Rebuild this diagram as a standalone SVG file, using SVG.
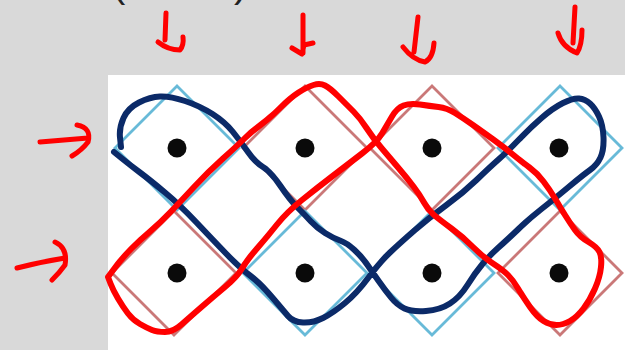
<svg xmlns="http://www.w3.org/2000/svg" width="625" height="350" viewBox="0 0 625 350">
<defs>
<filter id="soft" x="-5%" y="-5%" width="110%" height="110%"><feGaussianBlur stdDeviation="0.6"/></filter>
</defs>
<style>
.bg{fill:#d9d9d9}
.panel{fill:#ffffff}
.dot{fill:#0a0a0a}
.dblue{fill:none;stroke:#58b2d4;stroke-width:2.8;opacity:0.9}
.dred{fill:none;stroke:#c46a6a;stroke-width:2.8;opacity:0.9}
.navy{fill:none;stroke:#0b2a68;stroke-width:6;stroke-linejoin:round;stroke-linecap:round}
.red{fill:none;stroke:#ff0000;stroke-width:6;stroke-linejoin:round;stroke-linecap:round}
.arrow{fill:none;stroke:#ff0000;stroke-width:5;stroke-linejoin:round;stroke-linecap:round}
.paren{font-family:"Liberation Sans",Arial,sans-serif;font-size:40px;fill:#222222}
</style>
<rect class="bg" x="0" y="0" width="625" height="350"/>
<text class="paren" x="112" y="-3">(</text>
<text class="paren" x="234" y="-3">)</text>
<rect class="panel" x="108" y="75" width="517" height="275"/>

<g id="diamonds" filter="url(#soft)">
<polygon id="d-t1" class="dblue" points="177,86 239,148 177,210 115,148"/>
<polygon id="d-t2" class="dred" points="305,86 367,148 305,210 243,148"/>
<polygon id="d-t3" class="dred" points="432,86 494,148 432,210 370,148"/>
<polygon id="d-t4" class="dblue" points="560,86 622,148 560,210 498,148"/>
<polygon id="d-b1" class="dred" points="174,211 236,273 174,335 112,273"/>
<polygon id="d-b2" class="dblue" points="305,211 367,273 305,335 243,273"/>
<polygon id="d-b3" class="dblue" points="432,211 494,273 432,335 370,273"/>
<polygon id="d-b4" class="dred" points="560,211 622,273 560,335 498,273"/>
</g>

<g id="dots">
<circle id="n-t1" class="dot" cx="177" cy="148" r="9.5"/>
<circle id="n-t2" class="dot" cx="305" cy="148" r="9.5"/>
<circle id="n-t3" class="dot" cx="432" cy="148" r="9.5"/>
<circle id="n-t4" class="dot" cx="559" cy="148" r="9.5"/>
<circle id="n-b1" class="dot" cx="177" cy="273" r="9.5"/>
<circle id="n-b2" class="dot" cx="305" cy="273" r="9.5"/>
<circle id="n-b3" class="dot" cx="432" cy="273" r="9.5"/>
<circle id="n-b4" class="dot" cx="559" cy="273" r="9.5"/>
</g>

<g id="connectors">
<path id="navy-loop" class="navy" d="M121,147 L120,137.5 Q119,128 123.5,118 Q128,108 139,102.5 Q150,97 160,96.5 Q170,96 185,101 Q200,106 212.5,114 Q225,122 233,132 Q241,142 248,152 Q255,162 263,167 Q271,172 280.5,186 Q290,200 297.5,207.5 Q305,215 311,221.5 Q317,228 325,233 Q333,238 340,240.5 Q347,243 354.5,250 Q362,257 367.5,265 Q373,273 379,281.5 Q385,290 391,297.5 Q397,305 404.5,308.5 Q412,312 426,311 Q440,310 450,303.5 Q460,297 467.5,285 Q475,273 482.5,264 Q490,255 498.5,247.5 Q507,240 518.5,229 Q530,218 541.5,209 Q553,200 568,187.5 Q583,175 590,170 Q597,165 600.5,157.5 Q604,150 603.5,137.5 Q603,125 599,116.5 Q595,108 590,103.5 Q585,99 579,98.5 Q573,98 563,103 Q553,108 541.5,118 Q530,128 518.5,140 Q507,152 498.5,159.5 Q490,167 476.5,180 Q463,193 446.5,205 Q430,217 415,230 Q400,243 390,252.5 Q380,262 368.5,277.5 Q357,293 345,303 Q333,313 323,318 Q313,323 303,322.5 Q293,322 288,316 Q283,310 271.5,296.5 Q260,283 250,275.5 Q240,268 226.5,254 Q213,240 196.5,222.5 Q180,205 165,192.5 Q150,180 140,172.5 Q130,165 122,158.5 L114,152"/>
<path id="red-loop" class="red" d="M108,277 L115.5,267 Q123,257 131.5,248.5 Q140,240 150,231.5 Q160,223 171,211.5 Q182,200 195,186 Q208,172 223,158.5 Q238,145 244.5,138.5 Q251,132 260.5,125 Q270,118 280,108 Q290,98 298.5,92.5 Q307,87 313.5,85 Q320,83 325,85.5 Q330,88 338.5,96.5 Q347,105 353.5,111.5 Q360,118 366.5,128 Q373,138 381.5,148 Q390,158 398.5,168 Q407,178 413.5,186.5 Q420,195 424,202.5 Q428,210 434,215 Q440,220 451.5,228.5 Q463,237 473,247 Q483,257 493,263.5 Q503,270 508,275 Q513,280 518,288.5 Q523,297 530,307 Q537,317 543.5,321 Q550,325 556.5,325 Q563,325 570,321 Q577,317 583.5,308.5 Q590,300 595,288.5 Q600,277 601,267 Q602,257 599.5,252 Q597,247 588.5,242 Q580,237 575,230 Q570,223 565,215 Q560,207 555,198.5 Q550,190 543.5,181.5 Q537,173 529.5,167.5 Q522,162 513.5,155 Q505,148 494,140 Q483,132 473,125 Q463,118 455,113 Q447,108 438.5,107 Q430,106 420,104.5 Q410,103 403.5,105.5 Q397,108 392,116.5 Q387,125 382,133.5 Q377,142 362,153.5 Q347,165 332,176.5 Q317,188 302,200 Q287,212 277,224.5 Q267,237 257,248.5 Q247,260 242,268.5 Q237,277 225,287 Q213,297 201.5,307 Q190,317 181.5,324.5 Q173,332 165,332 Q157,332 152,330 Q147,328 140,324 Q133,320 128,313.5 Q123,307 118,298.5 Q113,290 110.5,283.5 L108,277 Z"/>
</g>

<g id="arrows">
<path id="a1" class="arrow" d="M166,13 L165,40 M158,42 Q168,50 180,50 Q184,45 183,37"/>
<path id="a2" class="arrow" d="M303,15 L303,53 M292,48 L302,54 L304,45 L313,43"/>
<path id="a3" class="arrow" d="M418,17 L414,52 M403,47 Q413,60 425,62 Q433,58 434,43"/>
<path id="a4" class="arrow" d="M575,7 L573,43 M558,33 Q562,47 577,53 Q582,45 582,30"/>
<path id="a5" class="arrow" d="M40,142 L88,138 M77,125 Q92,128 88,142 Q82,150 72,156"/>
<path id="a6" class="arrow" d="M17,268 Q40,262 65,258 M55,242 Q68,248 65,265 Q60,272 52,280"/>
</g>
</svg>
